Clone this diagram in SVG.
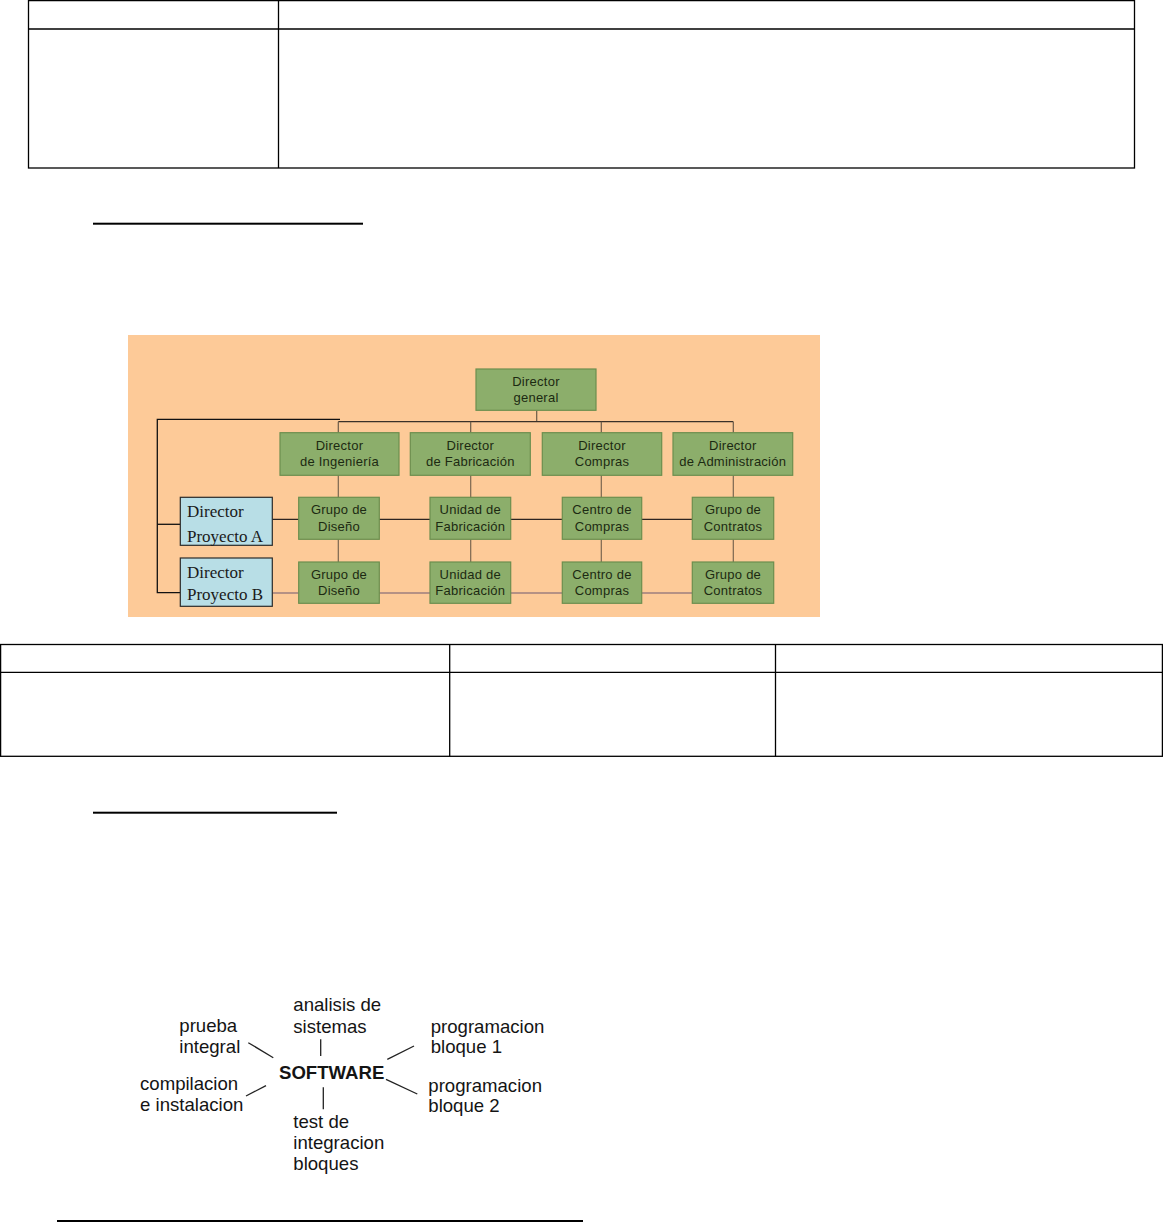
<svg xmlns="http://www.w3.org/2000/svg" width="1163" height="1223" viewBox="0 0 1163 1223">
<style>
.tl{stroke:#000;stroke-width:1.3;fill:none}
.ul{fill:#000}
.g rect{fill:#8CAE6B;stroke:#6C8E4E;stroke-width:1.2}
.g text{font-family:"Liberation Sans",Arial,sans-serif;font-size:13px;fill:#1c2a12;text-anchor:middle;letter-spacing:0.25px}
.b rect{fill:#B8DEE6;stroke:#2a2a2a;stroke-width:1.2}
.b text{font-family:"Liberation Serif","Times New Roman",serif;font-size:17px;fill:#1a1a1a}
.s text{font-family:"Liberation Sans",Arial,sans-serif;font-size:18.6px;fill:#141414}
.sl{stroke:#222;stroke-width:1.3}
</style>
<rect width="1163" height="1223" fill="#fff"/>
<g id="table1">
<rect x="28.5" y="0.6" width="1106" height="167.4" class="tl"/>
<line x1="28.5" y1="29" x2="1134.5" y2="29" class="tl"/>
<line x1="278.5" y1="0.6" x2="278.5" y2="168" class="tl"/>
</g>
<rect x="93" y="222.7" width="270" height="2" class="ul"/>
<g id="orgchart">
<rect x="128" y="335" width="692" height="282" fill="#FDCA98"/>
<g id="connectors" fill="none">
<polyline points="340,419.3 157.3,419.3 157.3,592.7 180.3,592.7" stroke="#111" stroke-width="1.3"/>
<line x1="157.3" y1="524.3" x2="180.3" y2="524.3" stroke="#111" stroke-width="1.3"/>
<line x1="536.7" y1="410.3" x2="536.7" y2="421.7" stroke="#6a5a48" stroke-width="1.2"/>
<line x1="338.3" y1="421.7" x2="733.3" y2="421.7" stroke="#3a3028" stroke-width="1.3"/>
<line x1="338.3" y1="421.7" x2="338.3" y2="432.7" stroke="#6a5a48" stroke-width="1.2"/>
<line x1="470.7" y1="421.7" x2="470.7" y2="432.7" stroke="#6a5a48" stroke-width="1.2"/>
<line x1="601.3" y1="421.7" x2="601.3" y2="432.7" stroke="#6a5a48" stroke-width="1.2"/>
<line x1="733.3" y1="421.7" x2="733.3" y2="432.7" stroke="#6a5a48" stroke-width="1.2"/>
<line x1="338.3" y1="475.3" x2="338.3" y2="562" stroke="#7a6650" stroke-width="1.2"/>
<line x1="470.7" y1="475.3" x2="470.7" y2="562" stroke="#7a6650" stroke-width="1.2"/>
<line x1="601.3" y1="475.3" x2="601.3" y2="562" stroke="#7a6650" stroke-width="1.2"/>
<line x1="733.3" y1="475.3" x2="733.3" y2="562" stroke="#7a6650" stroke-width="1.2"/>
<line x1="272.3" y1="519.3" x2="692.3" y2="519.3" stroke="#2e2420" stroke-width="1.3"/>
<line x1="272.3" y1="593" x2="692.3" y2="593" stroke="#6e5870" stroke-width="1.2"/>
</g>
<g id="dg" class="g"><rect x="476" y="369" width="120" height="41.3"/><text x="536" y="385.5">Director</text><text x="536" y="402">general</text></g>
<g id="d-ing" class="g"><rect x="280" y="432.7" width="119" height="42.6"/><text x="339.5" y="450">Director</text><text x="339.5" y="466">de Ingeniería</text></g>
<g id="d-fab" class="g"><rect x="410.3" y="432.7" width="120" height="42.6"/><text x="470.3" y="450">Director</text><text x="470.3" y="466">de Fabricación</text></g>
<g id="d-com" class="g"><rect x="542.3" y="432.7" width="119.4" height="42.6"/><text x="602" y="450">Director</text><text x="602" y="466">Compras</text></g>
<g id="d-adm" class="g"><rect x="673" y="432.7" width="119.7" height="42.6"/><text x="732.8" y="450">Director</text><text x="732.8" y="466">de Administración</text></g>
<g id="pa" class="b"><rect x="180.3" y="497.3" width="92" height="48"/><text x="187" y="516.7">Director</text><text x="187" y="542.3">Proyecto A</text></g>
<g id="pb" class="b"><rect x="180.3" y="558" width="92" height="48.3"/><text x="187" y="578.3">Director</text><text x="187" y="600">Proyecto B</text></g>
<g id="gd1" class="g"><rect x="298.7" y="497.3" width="80.6" height="42"/><text x="339" y="514">Grupo de</text><text x="339" y="530.5">Diseño</text></g>
<g id="uf1" class="g"><rect x="430" y="497.3" width="80.7" height="42"/><text x="470.3" y="514">Unidad de</text><text x="470.3" y="530.5">Fabricación</text></g>
<g id="cc1" class="g"><rect x="562.3" y="497.3" width="79.4" height="42"/><text x="602" y="514">Centro de</text><text x="602" y="530.5">Compras</text></g>
<g id="gc1" class="g"><rect x="692.3" y="497.3" width="81.4" height="42"/><text x="733" y="514">Grupo de</text><text x="733" y="530.5">Contratos</text></g>
<g id="gd2" class="g"><rect x="298.7" y="562" width="80.6" height="41.3"/><text x="339" y="578.5">Grupo de</text><text x="339" y="595">Diseño</text></g>
<g id="uf2" class="g"><rect x="430" y="562" width="80.7" height="41.3"/><text x="470.3" y="578.5">Unidad de</text><text x="470.3" y="595">Fabricación</text></g>
<g id="cc2" class="g"><rect x="562.3" y="562" width="79.4" height="41.3"/><text x="602" y="578.5">Centro de</text><text x="602" y="595">Compras</text></g>
<g id="gc2" class="g"><rect x="692.3" y="562" width="81.4" height="41.3"/><text x="733" y="578.5">Grupo de</text><text x="733" y="595">Contratos</text></g>
</g>
<g id="table2">
<rect x="0.6" y="644.5" width="1161.8" height="111.8" class="tl"/>
<line x1="0.6" y1="672.3" x2="1162.4" y2="672.3" class="tl"/>
<line x1="449.7" y1="644.5" x2="449.7" y2="756.3" class="tl"/>
<line x1="775.5" y1="644.5" x2="775.5" y2="756.3" class="tl"/>
</g>
<rect x="93" y="811.7" width="244" height="2" class="ul"/>
<g id="software" class="s">
<g id="sw-lines">
<line x1="248.3" y1="1042.7" x2="273.3" y2="1057.7" class="sl"/>
<line x1="320.7" y1="1039.3" x2="320.7" y2="1056" class="sl"/>
<line x1="387.3" y1="1059.3" x2="414" y2="1046" class="sl"/>
<line x1="386" y1="1079.3" x2="417.3" y2="1094" class="sl"/>
<line x1="246" y1="1096" x2="266" y2="1085.7" class="sl"/>
<line x1="323.3" y1="1087.3" x2="323.3" y2="1109.3" class="sl"/>
</g>
<g id="sw-center"><text x="279" y="1079.3" font-weight="bold" font-size="18.3">SOFTWARE</text></g>
<g id="sw-analisis"><text x="293.3" y="1011">analisis de</text><text x="293.3" y="1033">sistemas</text></g>
<g id="sw-prueba"><text x="179.3" y="1031.7">prueba</text><text x="179.3" y="1052.7">integral</text></g>
<g id="sw-prog1"><text x="430.7" y="1033">programacion</text><text x="430.7" y="1053.3">bloque 1</text></g>
<g id="sw-comp"><text x="140" y="1090">compilacion</text><text x="140" y="1110.7">e instalacion</text></g>
<g id="sw-prog2"><text x="428.3" y="1091.7">programacion</text><text x="428.3" y="1111.7">bloque 2</text></g>
<g id="sw-test"><text x="293.3" y="1128.3">test de</text><text x="293.3" y="1149.3">integracion</text><text x="293.3" y="1170">bloques</text></g>
</g>
<rect x="57" y="1220" width="526" height="2" class="ul"/>
</svg>
